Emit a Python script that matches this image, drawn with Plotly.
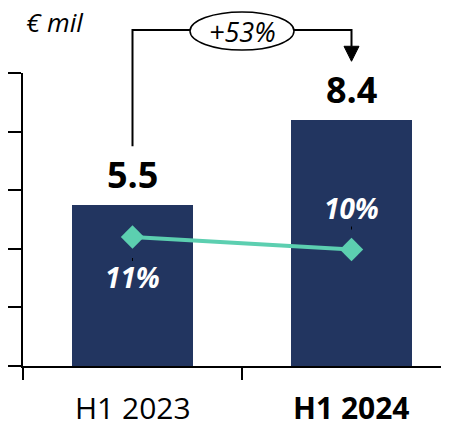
import plotly.graph_objects as go

# Half-year revenue (€ mil) and margin (%)
periods = ["H1 2023", "H1 2024"]
revenue = [5.5, 8.4]
margin_pct = [11, 10]
y_ticks = [0, 2, 4, 6, 8, 10]

W, H = 451, 428
ML, MR, MT, MB = 23, 10, 73, 62
plot_w = W - ML - MR
plot_h = H - MT - MB
cat_px = 219                      # pixel width of one category slot
x_range = [-0.5, -0.5 + plot_w / cat_px]
y_range = [0, 10]
y2_range = [0.68, 24.12]

NAVY = "#223560"
TEAL = "#5CCFB0"
FONT = "Open Sans"


def val_paper(v):
    """Primary y-axis value -> paper coordinate."""
    return (v - y_range[0]) / (y_range[1] - y_range[0])


def px_paper(py):
    """Pixel row (from top of page) -> paper coordinate."""
    return (H - MB - py) / plot_h


xs = list(range(len(periods)))

fig = go.Figure()
fig.add_trace(go.Bar(
    x=xs, y=revenue, width=0.553,
    marker=dict(color=NAVY, line=dict(width=0)),
    hoverinfo="skip",
))
fig.add_trace(go.Scatter(
    x=xs, y=margin_pct, yaxis="y2", mode="lines+markers",
    line=dict(color=TEAL, width=4),
    marker=dict(symbol="diamond", size=18, color=TEAL),
    hoverinfo="skip",
))

annotations = []
# value labels above the bars
for i, v in enumerate(revenue):
    annotations.append(dict(
        x=i, y=v, xref="x", yref="y", text=f"<b>{v:.1f}</b>",
        showarrow=False, yanchor="middle", yshift=30,
        font=dict(family=FONT, size=36, color="black"),
    ))
# margin labels: first below its marker, second above
pct_shift = [-40, 42]
lead = [(-21, -24), (20, 23)]
shapes = []
for i, p in enumerate(margin_pct):
    annotations.append(dict(
        x=i, y=p, xref="x", yref="y2", text=f"<b><i>{p:.0f}%</i></b>",
        showarrow=False, yanchor="middle", yshift=pct_shift[i],
        font=dict(family=FONT, size=28, color="white"),
    ))
    shapes.append(dict(
        type="line", xref="x", yref="y2", ysizemode="pixel", yanchor=p,
        x0=i, x1=i, y0=lead[i][0], y1=lead[i][1],
        line=dict(color="black", width=1),
    ))
# category labels
for i, name in enumerate(periods):
    txt = f"<b>{name}</b>" if i == len(periods) - 1 else name
    annotations.append(dict(
        x=i, y=px_paper(407), xref="x", yref="paper", text=txt,
        showarrow=False, yanchor="middle",
        font=dict(family=FONT, size=30, color="black"),
    ))
# unit label
annotations.append(dict(
    x=(24 - ML) / plot_w, y=px_paper(22), xref="paper", yref="paper",
    text="<i>€ mil</i>", showarrow=False, xanchor="left", yanchor="middle",
    font=dict(family=FONT, size=26, color="black"),
))

# growth bracket between the two bars
growth = (revenue[1] / revenue[0] - 1) * 100
gap = 2.0
top_y = px_paper(30)
start_y = val_paper(revenue[0] + gap)
tip_y = val_paper(revenue[1] + gap)
head_h = 15 / plot_h
head_w = 7.5 / cat_px
shapes.append(dict(
    type="path", xref="x", yref="paper",
    path=f"M {xs[0]},{start_y} L {xs[0]},{top_y} L {xs[1]},{top_y} L {xs[1]},{tip_y + head_h}",
    line=dict(color="black", width=2),
))
shapes.append(dict(
    type="path", xref="x", yref="paper",
    path=(f"M {xs[1] - head_w},{tip_y + head_h} L {xs[1] + head_w},{tip_y + head_h} "
          f"L {xs[1]},{tip_y} Z"),
    fillcolor="black", line=dict(color="black", width=1),
))
mid = (xs[0] + xs[1]) / 2
ell_cy = px_paper(31)
shapes.append(dict(
    type="circle", xref="x", yref="paper",
    x0=mid - 52 / cat_px, x1=mid + 52 / cat_px,
    y0=ell_cy - 19 / plot_h, y1=ell_cy + 19 / plot_h,
    fillcolor="white", line=dict(color="black", width=1.5),
))
annotations.append(dict(
    x=mid, y=ell_cy, xref="x", yref="paper", text=f"<i>+{growth:.0f}%</i>",
    showarrow=False, yanchor="middle",
    font=dict(family=FONT, size=27, color="black"),
))

fig.update_layout(
    width=W, height=H,
    margin=dict(l=ML, r=MR, t=MT, b=MB, autoexpand=False),
    paper_bgcolor="white", plot_bgcolor="white",
    showlegend=False, bargap=0,
    xaxis=dict(
        range=x_range, showline=True, linecolor="black", linewidth=2,
        tickmode="array", tickvals=[-0.5, 0.5], ticks="outside",
        ticklen=12, tickwidth=2, tickcolor="black",
        showticklabels=False, showgrid=False, zeroline=False, fixedrange=True,
    ),
    yaxis=dict(
        range=y_range, showline=True, linecolor="black", linewidth=2,
        tickmode="array", tickvals=y_ticks, ticks="outside",
        ticklen=13, tickwidth=2, tickcolor="black",
        showticklabels=False, showgrid=False, zeroline=False, fixedrange=True,
    ),
    yaxis2=dict(range=y2_range, overlaying="y", visible=False, fixedrange=True),
    annotations=annotations,
    shapes=shapes,
)

fig.write_html("out.html", config={"displayModeBar": False})
